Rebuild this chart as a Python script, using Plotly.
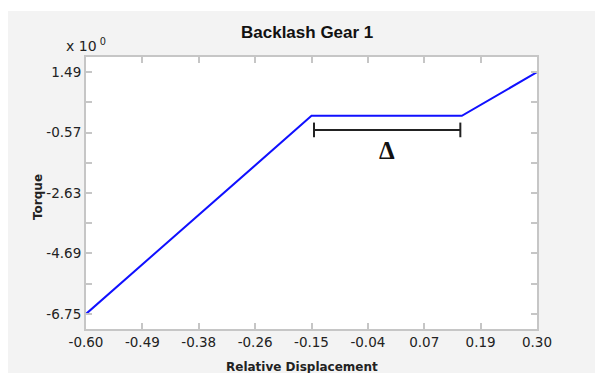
import numpy as np
import plotly.graph_objects as go

# Backlash characteristic: torque vs. relative displacement
disp = [-0.60, -0.15, 0.15, 0.30]
torque = [-6.75, 0.0, 0.0, 1.49]

# Axis ticks
x_ticks = list(np.linspace(-0.60, 0.30, 9))
x_labels = ["-0.60", "-0.49", "-0.38", "-0.26", "-0.15", "-0.04", "0.07", "0.19", "0.30"]
y_ticks = [-6.75, -4.69, -2.63, -0.57, 1.49]
y_labels = ["-6.75", "-4.69", "-2.63", "-0.57", "1.49"]
y_minor = [-5.72, -3.66, -1.60, 0.46]

# Dead-zone bracket (Δ)
gap_start, gap_end, gap_level, cap_half = -0.145, 0.147, -0.48, 0.25

W, H = 595, 373
L, R, T, B = 86, 58, 57, 44
pw, ph = W - L - R, H - T - B


def px(xp):
    return (xp - L) / pw


def py(yp):
    return (H - B - yp) / ph


axis_grey = "#c6c6c6"
text_col = "#222222"
tick_font = dict(family="DejaVu Sans", size=13.5, color=text_col)

fig = go.Figure()
fig.add_trace(go.Scatter(x=disp, y=torque, mode="lines",
                         line=dict(color="#1010ff", width=2), hoverinfo="skip"))

shapes = [
    # light panel behind the chart
    dict(type="rect", xref="paper", yref="paper", x0=px(8), x1=px(600), y0=py(380), y1=py(11),
         fillcolor="#f3f3f3", line=dict(width=0), layer="below"),
    dict(type="rect", xref="paper", yref="paper", x0=0, x1=1, y0=0, y1=1,
         fillcolor="white", line=dict(width=0), layer="below"),
    # Δ bracket
    dict(type="line", x0=gap_start, x1=gap_end, y0=gap_level, y1=gap_level,
         line=dict(color="#222222", width=2)),
    dict(type="line", x0=gap_start, x1=gap_start, y0=gap_level - cap_half, y1=gap_level + cap_half,
         line=dict(color="#222222", width=2)),
    dict(type="line", x0=gap_end, x1=gap_end, y0=gap_level - cap_half, y1=gap_level + cap_half,
         line=dict(color="#222222", width=2)),
]

annotations = [
    dict(text="<b>Backlash Gear 1</b>", xref="paper", yref="paper", x=px(307), y=py(32),
         xanchor="center", yanchor="middle", showarrow=False,
         font=dict(family="Liberation Sans", size=17, color="#111111")),
    dict(text="x 10<sup> 0</sup>", xref="paper", yref="paper", x=px(64), y=py(45),
         xanchor="left", yanchor="middle", showarrow=False,
         font=dict(family="DejaVu Sans", size=14, color=text_col)),
    dict(text="<b>Relative Displacement</b>", xref="paper", yref="paper", x=px(302), y=py(367),
         xanchor="center", yanchor="middle", showarrow=False,
         font=dict(family="DejaVu Sans", size=12, color=text_col)),
    dict(text="<b>Torque</b>", xref="paper", yref="paper", x=px(38), y=py(197),
         xanchor="center", yanchor="middle", textangle=-90, showarrow=False,
         font=dict(family="DejaVu Sans", size=12, color=text_col)),
    dict(text="<b>Δ</b>", x=(gap_start + gap_end) / 2, y=-1.19, xanchor="center", yanchor="middle",
         showarrow=False, font=dict(family="Liberation Serif", size=25, color="#111111")),
]

axis_common = dict(showgrid=False, zeroline=False, showline=True, linecolor=axis_grey,
                   linewidth=2, mirror="ticks", ticks="inside", ticklen=6, tickwidth=1.5,
                   tickcolor=axis_grey, tickfont=tick_font)

fig.update_layout(
    width=W, height=H,
    margin=dict(l=L, r=R, t=T, b=B),
    paper_bgcolor="white", plot_bgcolor="white",
    showlegend=False,
    shapes=shapes, annotations=annotations,
    xaxis=dict(range=[-0.60, 0.30], tickmode="array", tickvals=x_ticks, ticktext=x_labels,
               **axis_common),
    yaxis=dict(range=[-6.75 - 0.515, 1.49 + 0.515], tickmode="array", tickvals=y_ticks,
               ticktext=y_labels,
               minor=dict(tickmode="array", tickvals=y_minor, ticks="inside", ticklen=6,
                          tickwidth=1.5, tickcolor=axis_grey),
               **axis_common),
)

fig.write_html("out.html")
